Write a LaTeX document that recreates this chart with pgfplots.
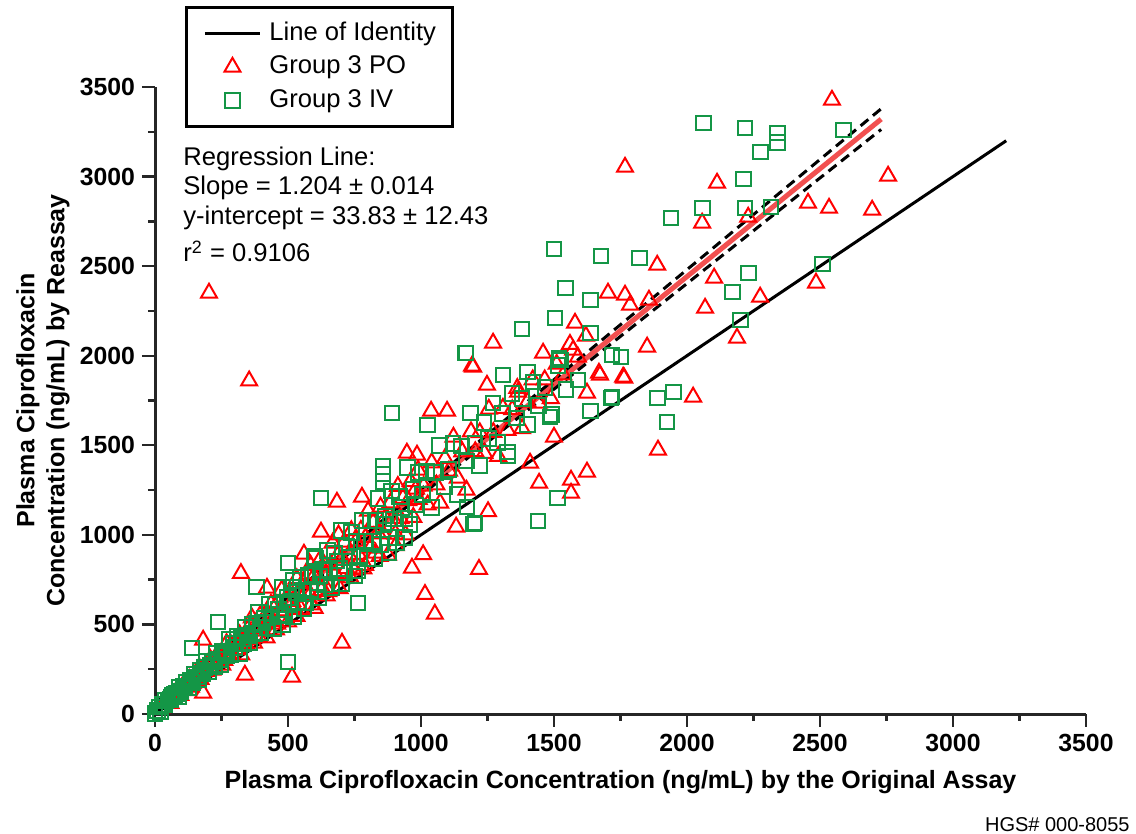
\documentclass[border=0pt]{standalone}
\usepackage{fontspec}
\setmainfont{Liberation Sans}
\usepackage{pgfplots}
\usepackage{pgfplotstable}
\pgfplotsset{compat=1.18}
\definecolor{poRed}{RGB}{255,0,0}
\definecolor{ivGreen}{RGB}{20,150,70}
\definecolor{regRed}{RGB}{242,80,80}
\newcommand{\txtfont}{\fontsize{12.8bp}{15bp}\selectfont}
\newcommand{\tickfont}{\fontsize{12.4bp}{14bp}\selectfont\bfseries}
\newcommand{\labfont}{\fontsize{12.5bp}{15bp}\selectfont\bfseries}

\pgfplotstableread{
x y
25 35
38 65
52 88
58 60
61 84
73 109
84 138
92 123
95 105
101 148
113 131
121 165
129 194
135 150
142 175
148 205
157 201
166 259
171 194
175 225
183 256
190 246
197 239
208 305
214 283
215 245
223 259
231 325
240 298
247 331
253 273
260 300
262 337
269 394
277 333
286 386
292 324
301 393
305 360
309 382
318 443
324 331
333 420
341 388
345 415
349 474
356 426
364 537
372 396
380 487
388 474
390 430
395 549
403 463
411 538
419 426
428 538
436 613
443 516
452 599
459 502
467 576
476 691
483 575
492 635
500 515
508 685
516 629
525 592
533 756
541 680
549 585
558 729
566 677
574 783
583 667
591 753
600 590
608 750
617 853
625 689
634 838
642 771
651 684
660 832
668 955
677 785
686 884
694 700
703 871
712 960
720 812
729 888
738 1024
747 804
756 965
765 892
774 1026
783 811
792 986
801 1133
810 927
820 1070
829 899
838 1009
848 1156
857 1006
866 1094
876 887
885 1179
894 1093
904 1005
913 1271
923 1091
932 1204
942 1000
952 1191
961 1298
971 1098
981 1256
991 1199
455 470
532 545
588 610
645 660
735 760
790 830
845 880
905 940
585 830
690 1000
1010 1272
1025 1168
1040 1403
1058 1279
1072 1178
1090 1426
1105 1357
1122 1546
1138 1317
1155 1464
1171 1250
1188 1576
1204 1465
1221 1571
1238 1456
1255 1702
1272 1572
1290 1439
1308 1707
1325 1584
1343 1699
1362 1818
1380 1593
1400 1742
1420 1866
1442 1736
1465 1866
1488 1761
1510 1953
1535 1893
1560 2064
1590 1992
1620 2110
203 2350
354 1860
323 785
1218 808
1015 668
1052 558
703 396
515 207
338 218
181 413
181 117
966 815
1008 890
421 703
560 893
624 1016
684 1183
778 1211
947 1457
985 1446
989 1362
1038 1691
1098 1691
1192 1943
1132 1044
1252 1130
1444 1289
1564 1306
1564 1233
1624 1351
1500 1546
1624 1792
1669 1903
1764 1876
1248 1836
1365 1797
1459 2015
1410 1401
1271 2071
1196 1937
1579 2182
2068 2266
1850 2049
2188 2099
2023 1770
1891 1474
1760 1881
1673 1892
2545 3427
1767 3053
2113 2964
2756 3003
2057 2741
2230 2774
2455 2852
2534 2824
2696 2813
2485 2406
1888 2506
2102 2434
2275 2328
1703 2350
1767 2339
1786 2283
1857 2311
1572 2032
}\potable

\pgfplotstableread{
x y
0 5
10 20
15 39
22 15
28 51
35 55
40 75
49 78
57 79
60 90
66 106
74 110
82 113
88 95
90 149
97 125
105 153
112 151
119 179
126 146
134 186
141 178
149 223
156 207
163 193
171 244
178 225
186 258
193 292
201 239
209 273
216 290
224 266
232 340
239 304
247 274
255 352
262 340
270 328
278 418
286 329
294 393
301 372
309 434
317 337
325 423
333 393
341 484
349 439
357 398
365 498
373 449
381 508
389 568
397 453
405 510
413 536
421 483
430 613
438 541
446 479
454 610
463 585
471 557
480 706
488 547
497 651
505 611
514 709
522 542
531 678
540 625
548 765
557 688
566 620
575 773
584 692
593 779
602 869
611 686
620 770
629 806
638 722
647 913
656 801
665 705
674 896
684 854
693 810
702 1024
712 789
721 936
731 875
740 1012
750 770
759 961
769 881
779 1079
788 966
798 866
808 1078
818 961
828 1080
838 1202
848 944
857 1300
857 1340
857 1380
858 1058
868 1105
878 986
888 1245
898 1089
908 955
918 1213
928 1152
939 1090
949 1377
959 1056
970 1252
980 1167
991 1348
480 500
560 590
615 650
700 730
760 800
825 870
880 900
940 985
520 745
600 880
1005 1226
1020 1356
1038 1151
1055 1349
1070 1497
1088 1271
1103 1366
1120 1510
1137 1225
1153 1496
1170 1412
1186 1680
1203 1512
1220 1386
1237 1628
1254 1537
1271 1736
1289 1515
1306 1679
1324 1463
1342 1791
1360 1652
1380 1759
1400 1616
1421 1853
1443 1723
1466 1823
1490 1674
1515 1944
1545 1812
139 368
237 514
383 709
500 843
500 290
763 620
891 1680
624 1206
1440 1077
1512 1206
1196 1061
1714 1764
1636 1691
1485 1658
1327 1440
1523 1976
1308 1892
1399 1909
1752 1993
1169 2015
1023 1613
1166 2015
1380 2149
1504 2210
1636 2127
1636 2311
1590 1864
1718 1770
1888 1764
1948 1797
1925 1630
2200 2199
1173 1156
1203 1066
2063 3299
2218 3271
2339 3243
2339 3188
2275 3137
2587 3260
2211 2986
2057 2824
2218 2824
2316 2830
1940 2769
1500 2596
1677 2557
1820 2545
1542 2378
2230 2462
2170 2356
2508 2512
1519 1987
1718 2004
}\ivtable

\begin{document}
\begin{tikzpicture}
\path[use as bounding box] (0,0) rectangle (568bp,417bp);
\begin{axis}[
  at={(77.5bp,60bp)}, anchor=south west,
  scale only axis, width=465.5bp, height=313.5bp,
  xmin=0, xmax=3500, ymin=0, ymax=3500,
  axis x line*=bottom, axis y line*=left,
  axis line style={line width=1.5bp, black!85},
  xtick={0,500,...,3500}, ytick={0,500,...,3500},
  minor tick num=1,
  tick align=outside,
  major tick length=6.5bp, minor tick length=3.5bp,
  every tick/.style={line width=1.2bp, black!85},
  scaled ticks=false,
  /pgf/number format/set thousands separator={},
  /pgf/number format/assume math mode=true,
  ticklabel style={font=\tickfont},
  xlabel={Plasma Ciprofloxacin Concentration (ng/mL) by the Original Assay},
  xlabel style={font=\labfont, at={(axis description cs:0.5,-0.1085)}, anchor=center},
  ylabel={Plasma Ciprofloxacin\\Concentration (ng/mL) by Reassay},
  ylabel style={font=\labfont, align=center, at={(axis description cs:-0.1203,0.5)}, anchor=center},
  clip=false,
  legend image code/.code={\draw[#1,mark repeat=2,mark phase=2] plot coordinates {(0bp,0bp) (13.75bp,0bp) (27.5bp,0bp)};},
  legend style={at={(axis description cs:0.0322,1.129)}, anchor=north west,
    draw=black, line width=1.5bp, font=\txtfont,
    inner xsep=8.5bp, inner ysep=7bp,
    row sep=4.85bp, column sep=4bp,
    nodes={inner sep=0pt, text height=9.2bp, text depth=2.7bp},
    cells={anchor=west}},
]
\addplot[black, line width=1.5bp] coordinates {(0,0) (3200,3200)};
\addlegendentry{Line of Identity}
\addplot[only marks, mark=triangle, mark size=4.6bp, mark options={draw=poRed, line width=1bp, fill=none}] table {\potable};
\addlegendentry{Group 3 PO}
\addplot[only marks, mark=square, mark size=3.7bp, mark options={draw=ivGreen, line width=1bp, fill=none}] table {\ivtable};
\addlegendentry{Group 3 IV}
\addplot[forget plot, regRed, line width=2.5bp] coordinates {(0,33.83) (2730,3320.7)};
\addplot[forget plot, black, line width=1.5bp, dash pattern=on 5bp off 3bp] coordinates {
(0,58.2) (350,473.0) (700,891.6) (1100,1376.8) (1500,1866.4) (2000,2480.5) (2400,2972.4) (2730,3378.4)};
\addplot[forget plot, black, line width=1.5bp, dash pattern=on 5bp off 3bp] coordinates {
(0,9.4) (350,437.4) (700,861.6) (1100,1339.6) (1500,1813.2) (2000,2403.1) (2400,2874.4) (2730,3263.0)};
\end{axis}
\node[anchor=base west, font=\txtfont, inner sep=0pt] at (91.5bp,334bp) {Regression Line:};
\node[anchor=base west, font=\txtfont, inner sep=0pt] at (91.5bp,319.5bp) {Slope = 1.204 ± 0.014};
\node[anchor=base west, font=\txtfont, inner sep=0pt] at (91.5bp,304.5bp) {y-intercept = 33.83 ± 12.43};
\node[anchor=base west, font=\txtfont, inner sep=0pt] at (91.5bp,286bp) {r\textsuperscript{2} = 0.9106};
\node[anchor=base east, font=\fontsize{10bp}{12bp}\selectfont, inner sep=0pt] at (565bp,1.5bp) {HGS\# 000-8055};
\end{tikzpicture}
\end{document}
